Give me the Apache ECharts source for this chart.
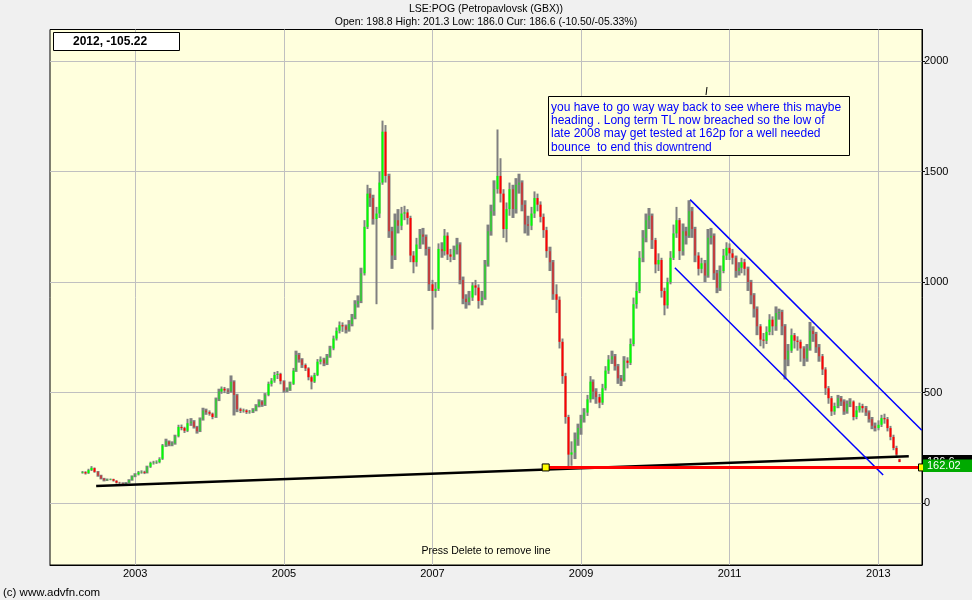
<!DOCTYPE html>
<html><head><meta charset="utf-8">
<script src="https://cdn.jsdelivr.net/npm/echarts@6/dist/echarts.min.js"></script>
<style>html,body{margin:0;padding:0;background:#F0F0F0;}#c{width:972px;height:600px;}</style>
</head><body><div id="c"></div>
<script>
// ---- data ----
const dates = [
'2002-04-16','2002-05-01','2002-05-16','2002-06-01','2002-06-16','2002-07-01','2002-07-16','2002-08-01','2002-08-16','2002-09-01','2002-09-16','2002-10-01','2002-10-16','2002-11-01','2002-11-16','2002-12-01','2002-12-16',
'2003-01-01','2003-01-16','2003-02-01','2003-02-16','2003-03-01','2003-03-16','2003-04-01','2003-04-16','2003-05-01','2003-05-16','2003-06-01','2003-06-16','2003-07-01','2003-07-16','2003-08-01','2003-08-16','2003-09-01','2003-09-16','2003-10-01','2003-10-16','2003-11-01','2003-11-16','2003-12-01','2003-12-16',
'2004-01-01','2004-01-16','2004-02-01','2004-02-16','2004-03-01','2004-03-16','2004-04-01','2004-04-16','2004-05-01','2004-05-16','2004-06-01','2004-06-16','2004-07-01','2004-07-16','2004-08-01','2004-08-16','2004-09-01','2004-09-16','2004-10-01','2004-10-16','2004-11-01','2004-11-16','2004-12-01','2004-12-16',
'2005-01-01','2005-01-16','2005-02-01','2005-02-16','2005-03-01','2005-03-16','2005-04-01','2005-04-16','2005-05-01','2005-05-16','2005-06-01','2005-06-16','2005-07-01','2005-07-16','2005-08-01','2005-08-16','2005-09-01','2005-09-16','2005-10-01','2005-10-16','2005-11-01','2005-11-16','2005-12-01','2005-12-16',
'2006-01-01','2006-01-16','2006-02-01','2006-02-16','2006-03-01','2006-03-16','2006-04-01','2006-04-16','2006-05-01','2006-05-16','2006-06-01','2006-06-16','2006-07-01','2006-07-16','2006-08-01','2006-08-16','2006-09-01','2006-09-16','2006-10-01','2006-10-16','2006-11-01','2006-11-16','2006-12-01','2006-12-16',
'2007-01-01','2007-01-16','2007-02-01','2007-02-16','2007-03-01','2007-03-16','2007-04-01','2007-04-16','2007-05-01','2007-05-16','2007-06-01','2007-06-16','2007-07-01','2007-07-16','2007-08-01','2007-08-16','2007-09-01','2007-09-16','2007-10-01','2007-10-16','2007-11-01','2007-11-16','2007-12-01','2007-12-16',
'2008-01-01','2008-01-16','2008-02-01','2008-02-16','2008-03-01','2008-03-16','2008-04-01','2008-04-16','2008-05-01','2008-05-16','2008-06-01','2008-06-16','2008-07-01','2008-07-16','2008-08-01','2008-08-16','2008-09-01','2008-09-16','2008-10-01','2008-10-16','2008-11-01','2008-11-16','2008-12-01','2008-12-16',
'2009-01-01','2009-01-16','2009-02-01','2009-02-16','2009-03-01','2009-03-16','2009-04-01','2009-04-16','2009-05-01','2009-05-16','2009-06-01','2009-06-16','2009-07-01','2009-07-16','2009-08-01','2009-08-16','2009-09-01','2009-09-16','2009-10-01','2009-10-16','2009-11-01','2009-11-16','2009-12-01','2009-12-16',
'2010-01-01','2010-01-16','2010-02-01','2010-02-16','2010-03-01','2010-03-16','2010-04-01','2010-04-16','2010-05-01','2010-05-16','2010-06-01','2010-06-16','2010-07-01','2010-07-16','2010-08-01','2010-08-16','2010-09-01','2010-09-16','2010-10-01','2010-10-16','2010-11-01','2010-11-16','2010-12-01','2010-12-16',
'2011-01-01','2011-01-16','2011-02-01','2011-02-16','2011-03-01','2011-03-16','2011-04-01','2011-04-16','2011-05-01','2011-05-16','2011-06-01','2011-06-16','2011-07-01','2011-07-16','2011-08-01','2011-08-16','2011-09-01','2011-09-16','2011-10-01','2011-10-16','2011-11-01','2011-11-16','2011-12-01','2011-12-16',
'2012-01-01','2012-01-16','2012-02-01','2012-02-16','2012-03-01','2012-03-16','2012-04-01','2012-04-16','2012-05-01','2012-05-16','2012-06-01','2012-06-16','2012-07-01','2012-07-16','2012-08-01','2012-08-16','2012-09-01','2012-09-16','2012-10-01','2012-10-16','2012-11-01','2012-11-16','2012-12-01','2012-12-16',
'2013-01-01','2013-01-16','2013-02-01','2013-02-16','2013-03-01','2013-03-16','2013-04-01','2013-04-16'
];
const opens = [
138,141,136,150,159,143,126,112,104,107,109,102,93,92,90,93,105,
122,131,140,142,138,165,182,184,186,201,262,279,266,271,303,345,340,328,362,370,345,327,380,420,
412,405,391,470,505,518,510,506,550,488,425,418,420,412,414,422,440,460,446,490,540,555,580,585,
552,510,515,540,600,670,650,625,610,570,550,580,640,650,632,665,700,745,780,805,800,785,810,840,
900,915,1040,1250,1400,1380,1285,1310,1450,1680,1480,1230,1120,1280,1255,1310,1315,1290,1120,1090,1170,1215,1205,1150,
990,960,970,1150,1140,1210,1125,1115,1145,1170,1010,925,910,930,985,975,915,930,1080,1230,1320,1420,1480,1400,
1240,1330,1420,1330,1440,1450,1350,1262,1255,1310,1380,1350,1295,1235,1140,1090,945,920,730,575,390,220,230,290,
340,380,410,470,550,505,480,455,520,600,650,665,620,565,555,645,635,720,900,960,1110,1200,1280,1300,
1190,1080,1100,960,895,1000,1110,1220,1280,1140,1230,1210,1320,1240,1120,1060,1085,1030,1200,1210,1040,975,1050,1120,
1155,1130,1110,1050,1065,1090,1060,1000,940,880,800,740,735,775,830,800,860,865,800,650,690,760,735,730,
700,655,700,780,765,705,665,605,520,475,415,440,475,460,415,450,460,390,420,440,430,410,380,350,
340,355,385,380,340,300,250,198.8
];
const closes = [
141,135,150,160,142,125,112,104,108,109,102,93,92,90,92,105,122,
130,140,142,138,165,182,184,186,200,262,280,266,270,303,345,340,328,362,370,345,326,380,420,412,
405,390,470,505,518,510,505,550,490,425,418,420,412,414,422,440,460,445,490,540,555,580,585,552,
510,515,540,600,670,650,625,610,570,550,580,640,650,632,665,700,745,780,805,800,785,810,840,900,
915,1040,1250,1400,1380,1285,1310,1450,1680,1480,1230,1120,1280,1255,1310,1315,1290,1120,1090,1170,1215,1205,1150,990,
960,970,1150,1140,1210,1125,1115,1145,1170,1010,925,910,930,985,975,915,930,1080,1230,1320,1420,1480,1400,1240,
1330,1420,1330,1440,1450,1350,1260,1255,1310,1380,1350,1295,1235,1140,1090,945,920,730,575,390,220,230,290,340,
380,410,470,550,505,480,455,520,600,650,665,620,565,555,645,635,720,900,960,1110,1200,1280,1300,1190,
1080,1100,960,895,1000,1110,1220,1280,1140,1230,1210,1320,1240,1120,1060,1085,1030,1200,1210,1040,975,1050,1120,1155,
1130,1110,1050,1065,1090,1060,1000,940,880,800,740,735,775,830,800,860,865,800,650,690,760,735,730,700,
655,700,780,765,705,665,605,520,475,415,440,475,460,415,450,460,390,420,440,430,410,380,350,340,
355,385,380,340,300,250,220,186.6
];
const lows = [
134,130,133,146,138,120,108,99,101,104,98,89,87,86,86,90,102,
118,126,134,132,135,160,175,178,181,196,255,258,258,265,298,330,318,322,350,338,315,322,374,400,
396,380,386,462,495,498,494,500,397,412,408,410,404,405,408,416,434,436,440,484,528,545,562,538,
500,502,508,535,594,636,612,598,556,515,544,575,628,620,625,658,692,736,768,775,768,776,800,832,
885,905,1030,1240,1340,1260,900,1290,1440,1450,1200,1060,1100,1220,1235,1280,1260,1090,1040,1070,1150,1170,1120,960,
785,930,960,1110,1120,1100,1090,1100,1125,990,900,880,895,915,940,880,895,920,1070,1210,1300,1400,1360,1200,
1180,1300,1290,1310,1400,1320,1220,1210,1235,1290,1320,1270,1200,1110,1050,920,860,700,540,360,165,170,200,260,
310,365,395,455,470,450,430,445,510,585,630,600,540,530,550,610,625,710,880,950,1090,1180,1240,1150,
1040,1050,930,850,880,990,1100,1200,1100,1120,1170,1200,1200,1090,1030,1040,1000,1020,1170,1010,950,960,1040,1100,
1100,1080,1020,1030,1040,1030,960,900,840,760,710,700,720,760,760,780,830,760,560,620,680,700,690,640,
620,640,690,730,680,640,580,490,450,395,400,430,440,400,405,435,375,380,410,410,395,365,335,325,
330,345,360,325,285,240,205,186.0
];
const highs = [
146,145,156,168,162,146,129,115,112,112,111,104,97,95,96,109,126,
136,146,149,147,170,188,192,194,208,268,292,284,280,310,355,356,346,382,385,376,350,388,432,428,
420,410,478,518,528,526,520,578,556,495,432,428,425,422,430,448,470,466,498,550,566,594,598,590,
556,524,550,612,690,680,656,632,615,578,590,652,664,658,675,712,758,795,822,818,808,828,856,918,
940,1065,1280,1440,1425,1395,1340,1500,1730,1710,1490,1250,1310,1330,1340,1345,1330,1300,1140,1200,1240,1245,1215,1160,
1010,1000,1175,1180,1240,1225,1150,1165,1200,1180,1025,945,960,1000,1010,990,960,1100,1260,1350,1460,1690,1560,1420,
1360,1450,1440,1470,1490,1460,1370,1300,1340,1410,1400,1365,1310,1250,1160,1100,990,935,745,590,400,280,320,360,
400,430,490,575,560,520,495,540,620,670,690,675,630,580,665,660,745,930,1000,1140,1235,1310,1335,1310,
1200,1130,1110,975,1020,1140,1260,1340,1290,1265,1250,1370,1340,1250,1135,1110,1100,1240,1245,1220,1055,1075,1150,1180,
1175,1150,1120,1090,1110,1105,1070,1010,950,890,810,770,800,855,845,890,880,875,810,720,790,770,755,740,
710,720,820,800,775,720,675,615,530,485,455,490,485,470,465,475,465,440,455,450,440,420,390,365,
375,400,405,390,350,310,260,201.3
];
const yearTickLabels = ['2003-01-01','2005-01-01','2007-01-01','2009-01-01','2011-01-01','2013-01-01'];
const priceTickLabels = [0, 500, 1000, 1500, 2000];
const trendLine = [['2002-06-23', 78], ['2013-05-31', 213]];
const supportLine = [['2008-07-11', 162.02], ['2013-08-04', 162.02]];
const channelUpper = [['2010-06-21', 1373], ['2013-08-03', 330]];
const channelLower = [['2010-04-07', 1065], ['2013-01-25', 128]];
const axisStart = '2001-11-08';
const axisEnd = '2013-08-04';
const cursorLabel = '2012, -105.22';
const annotationLines = [
  'you have to go way way back to see where this maybe',
  'heading . Long term TL now breached so the low of',
  'late 2008 may get tested at 162p for a well needed',
  'bounce  to end this downtrend'
];
const titleText = 'LSE:POG (Petropavlovsk (GBX))';
const subTitleText = 'Open: 198.8 High: 201.3 Low: 186.0 Cur: 186.6 (-10.50/-05.33%)';

// ---- build ----
const pd = s => +echarts.number.parseDate(s);
const rangeData = [], bodyData = [];
for (let i = 0; i < dates.length; i++) {
  const t = pd(dates[i]), o = opens[i], c = closes[i];
  rangeData.push([t, lows[i], highs[i], lows[i], highs[i]]);
  bodyData.push([t, o, c, Math.min(o, c), Math.max(o, c)]);
}
const toXY = arr => arr.map(p => [pd(p[0]), p[1]]);
const FONT = '"Liberation Sans", Arial, sans-serif';
const chart = echarts.init(document.getElementById('c'));
chart.setOption({
  animation: false,
  backgroundColor: '#F0F0F0',
  grid: { left: 50, right: 50, top: 29.5, bottom: 35, show: true, backgroundColor: '#FFFFDD', borderColor: '#000', borderWidth: 1 },
  xAxis: {
    type: 'value', min: pd(axisStart), max: pd(axisEnd), scale: true,
    axisLine: { show: true, onZero: false, lineStyle: { color: '#000', width: 1 } },
    axisTick: { show: false, customValues: yearTickLabels.map(pd) },
    axisLabel: { customValues: yearTickLabels.map(pd), formatter: v => String(new Date(v).getFullYear()), color: '#000', fontSize: 11, fontFamily: FONT, margin: 3 },
    splitLine: { show: true, lineStyle: { color: '#C0C0C0', width: 1 } }
  },
  yAxis: {
    type: 'value', position: 'right', min: -279, max: 2142,
    axisLine: { show: true, lineStyle: { color: '#000' } },
    axisTick: { show: true, length: 3, inside: false, customValues: priceTickLabels, lineStyle: { color: '#000' } },
    axisLabel: { customValues: priceTickLabels, formatter: v => String(v), color: '#000', fontSize: 11, fontFamily: FONT, margin: 2 },
    splitLine: { show: true, lineStyle: { color: '#C0C0C0', width: 1 } }
  },
  series: [
    { type: 'candlestick', data: rangeData, barWidth: 3, silent: true,
      itemStyle: { color: '#808080', color0: '#808080', borderColor: '#808080', borderColor0: '#808080', borderColorDoji: '#808080', borderWidth: 0 } },
    { type: 'candlestick', data: bodyData, barWidth: 2, silent: true,
      itemStyle: { color: '#00FF00', color0: '#FF0000', borderColor: '#00FF00', borderColor0: '#FF0000', borderColorDoji: '#00FF00', borderWidth: 0 } },
    { type: 'line', data: toXY(trendLine), symbol: 'none', silent: true, lineStyle: { color: '#000', width: 2.5 }, z: 5 },
    { type: 'line', data: toXY(channelUpper), symbol: 'none', silent: true, lineStyle: { color: '#0000FF', width: 1.5 }, z: 5 },
    { type: 'line', data: toXY(channelLower), symbol: 'none', silent: true, lineStyle: { color: '#0000FF', width: 1.5 }, z: 5 },
    { type: 'line', data: toXY(supportLine), symbol: 'rect', symbolSize: 7, showSymbol: true, silent: true, clip: false,
      itemStyle: { color: '#FFFF00', borderColor: '#000', borderWidth: 1 },
      lineStyle: { color: '#FF0000', width: 3 }, z: 6 }
  ]
});

const yCur = chart.convertToPixel({ yAxisIndex: 0 }, closes[closes.length - 1]);
const ySup = chart.convertToPixel({ yAxisIndex: 0 }, supportLine[0][1]);
const gx = 923;
chart.setOption({
  graphic: [
    { type: 'text', left: 'center', top: 4, style: { text: titleText, font: '10.5px ' + FONT, fill: '#000' } },
    { type: 'text', left: 'center', top: 16.5, style: { text: subTitleText, font: '10.5px ' + FONT, fill: '#000' } },
    { type: 'rect', shape: { x: 53.5, y: 32.5, width: 126, height: 18 }, style: { fill: '#FFFFFF', stroke: '#000', lineWidth: 1 }, z: 100 },
    { type: 'text', x: 73, y: 41.5, style: { text: cursorLabel, font: 'bold 12px ' + FONT, fill: '#000', textVerticalAlign: 'middle' }, z: 101 },
    { type: 'rect', shape: { x: 548.5, y: 96.5, width: 301, height: 59 }, style: { fill: '#FFFFDD', stroke: '#000', lineWidth: 1 }, z: 100 },
    { type: 'text', x: 551, y: 100.5, style: { text: annotationLines.join('\n'), font: '12px ' + FONT, fill: '#0000FF', lineHeight: 13.4 }, z: 101 },
    { type: 'line', shape: { x1: 706, y1: 95, x2: 707, y2: 87 }, style: { stroke: '#000', lineWidth: 1 }, z: 100 },
    { type: 'rect', shape: { x: gx, y: yCur - 7, width: 49, height: 14 }, style: { fill: '#000' }, z: 100 },
    { type: 'text', x: gx + 4, y: yCur, style: { text: String(closes[closes.length - 1]), font: '11px ' + FONT, fill: '#FFF', textVerticalAlign: 'middle' }, z: 101 },
    { type: 'rect', shape: { x: gx, y: ySup - 8, width: 49, height: 12.5 }, style: { fill: '#00AA00' }, z: 102 },
    { type: 'text', x: gx + 4, y: ySup - 1.8, style: { text: supportLine[0][1].toFixed(2), font: '11px ' + FONT, fill: '#FFF', textVerticalAlign: 'middle' }, z: 103 },
    { type: 'text', left: 'center', top: 546, style: { text: 'Press Delete to remove line', font: '10.5px ' + FONT, fill: '#000' }, z: 101 },
    { type: 'text', x: 3, y: 587, style: { text: '(c) www.advfn.com', font: '11.5px ' + FONT, fill: '#000' } }
  ]
});
</script>
</body></html>
